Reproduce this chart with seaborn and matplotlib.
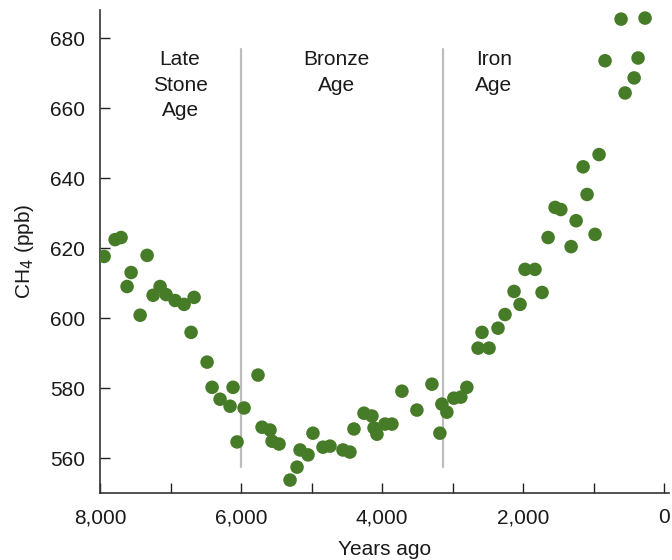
import matplotlib
matplotlib.use("Agg")
import matplotlib.pyplot as plt
import seaborn as sns
import pandas as pd
from matplotlib.ticker import MultipleLocator, FuncFormatter

years = [7942, 7786, 7701, 7559, 7616, 7431, 7332, 7247, 7148, 7063, 6935, 6808, 6666, 6709,
         6482, 6411, 6298, 6156, 6114, 6057, 5958, 5760, 5703, 5590, 5561, 5462, 5306, 5207,
         5164, 5051, 4981, 4839, 4740, 4556, 4457, 4400, 4258, 4145, 4116, 4074, 3961, 3862,
         3720, 3508, 3295, 3182, 3154, 3083, 2984, 2885, 2800, 2641, 2585, 2485, 2358, 2259,
         2131, 2046, 1975, 1834, 1734, 1648, 1549, 1468, 1322, 1251, 1152, 1096, 983, 926,
         841, 614, 557, 429, 373, 274]
ch4 = [617.6, 622.4, 623.0, 613.0, 609.0, 600.8, 617.9, 606.5, 609.0, 606.7, 605.0, 603.9, 605.9, 595.9,
       587.4, 580.2, 576.8, 574.8, 580.2, 564.6, 574.3, 583.7, 568.8, 568.0, 564.8, 564.0, 553.7, 557.4,
       562.3, 560.9, 567.1, 563.1, 563.4, 562.3, 561.7, 568.3, 572.8, 572.0, 568.6, 566.8, 569.7, 569.7,
       579.1, 573.7, 581.1, 567.1, 575.4, 573.1, 577.1, 577.4, 580.2, 591.4, 595.9, 591.4, 597.1, 601.0,
       607.6, 603.9, 613.9, 613.9, 607.3, 623.0, 631.6, 631.0, 620.4, 627.8, 643.2, 635.3, 623.9, 646.7,
       673.5, 685.4, 664.3, 668.6, 674.3, 685.7]

period_bounds = [6000, 3140]
period_labels = ["Late\nStone\nAge", "Bronze\nAge", "Iron\nAge"]
period_label_x = [6865, 4650, 2420]

df = pd.DataFrame({"years": years, "ch4": ch4})

sns.set_theme(style="ticks")
plt.rcParams['font.family'] = ['Liberation Sans', 'DejaVu Sans']

fig = plt.figure(figsize=(6.72, 5.6), dpi=100)
ax = fig.add_axes([0.1488, 0.1196, 0.8467, 0.8625])

sns.scatterplot(data=df, x="years", y="ch4", ax=ax, s=95, color="#467b27",
                edgecolor="none", linewidth=0, zorder=3)

for b in period_bounds:
    ax.axvline(b, ymin=0.054, ymax=0.92, color="#bdbdbd", lw=1.6, zorder=1)

for lx, lab in zip(period_label_x, period_labels):
    ax.text(lx, 676.6, lab, ha="center", va="top", fontsize=15, linespacing=1.44, color="#1a1a1a")

ax.set_xlim(8000, -65)
ax.set_ylim(550, 688)
ax.xaxis.set_major_locator(MultipleLocator(2000))
ax.xaxis.set_minor_locator(MultipleLocator(1000))
ax.xaxis.set_major_formatter(FuncFormatter(lambda v, p: f"{int(v):,}"))
ax.yaxis.set_major_locator(MultipleLocator(20))
ax.tick_params(axis="both", which="both", direction="in", length=7, width=1, color="#222222",
               labelsize=15, labelcolor="#1a1a1a")
ax.tick_params(axis="x", pad=11)
ax.tick_params(axis="y", pad=11)

for s in ["top", "right"]:
    ax.spines[s].set_visible(False)
for s in ["left", "bottom"]:
    ax.spines[s].set_color("#333333")
    ax.spines[s].set_linewidth(1.2)

ax.set_xlabel("Years ago", fontsize=15, color="#1a1a1a", labelpad=9)
ax.set_ylabel("CH$_4$ (ppb)", fontsize=15, color="#1a1a1a", labelpad=10)

fig.savefig("out.png", dpi=100)
